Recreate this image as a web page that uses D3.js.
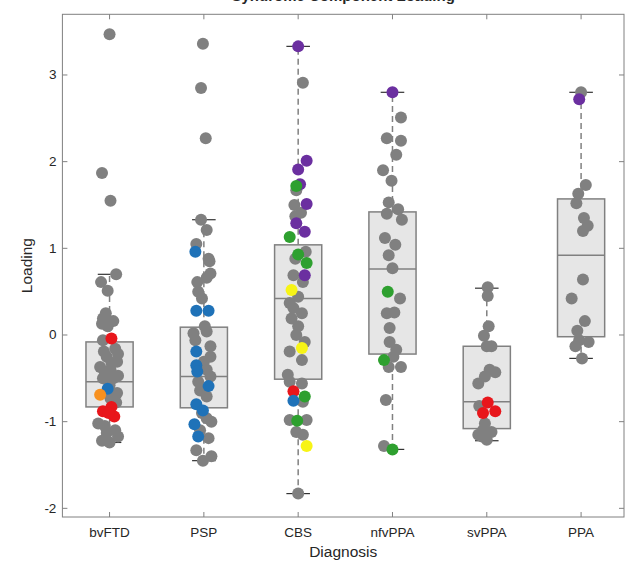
<!DOCTYPE html>
<html>
<head>
<meta charset="utf-8">
<script src="https://cdn.jsdelivr.net/npm/d3@7"></script>
<style>
  body { margin: 0; background: #fff; }
  svg { display: block; font-family: "Liberation Sans", Arial, sans-serif; }
</style>
</head>
<body>
<svg id="chart" width="626" height="564"></svg>
<script>
// groups on the x axis
const categories = ['bvFTD', 'PSP', 'CBS', 'nfvPPA', 'svPPA', 'PPA'];
const yTicks = [-2, -1, 0, 1, 2, 3];

// box statistics per group
const q1 = [-0.83, -0.84, -0.51, -0.22, -1.08, -0.02];
const medians = [-0.54, -0.48, 0.42, 0.76, -0.77, 0.92];
const q3 = [-0.08, 0.09, 1.04, 1.42, -0.13, 1.57];
const whiskerLow = [-1.24, -1.45, -1.83, -1.32, -1.22, -0.27];
const whiskerHigh = [0.70, 1.33, 3.33, 2.80, 0.54, 2.80];

// points: [loading, jitter (category units), colour key]
const bvFTDPoints = [
    [3.47, 0.00, 'g'], [1.87, -0.08, 'g'], [1.55, 0.01, 'g'], [0.70, 0.07, 'g'],
    [0.61, -0.09, 'g'], [0.51, -0.02, 'g'], [0.25, -0.04, 'g'], [0.19, -0.07, 'g'],
    [0.16, 0.04, 'g'], [0.10, -0.02, 'g'], [0.13, -0.08, 'g'], [-0.06, -0.07, 'g'],
    [-0.16, 0.06, 'g'], [-0.19, -0.06, 'g'], [-0.25, -0.03, 'g'], [-0.31, 0.08, 'g'],
    [-0.32, 0.02, 'g'], [-0.37, -0.10, 'g'], [-0.40, 0.01, 'g'], [-0.47, 0.09, 'g'],
    [-0.50, 0.04, 'g'], [-0.50, -0.07, 'g'], [-0.58, 0.00, 'g'], [-0.67, 0.08, 'g'],
    [-0.73, 0.01, 'g'], [-1.02, -0.12, 'g'], [-1.05, -0.05, 'g'], [-1.10, 0.06, 'g'],
    [-1.13, -0.03, 'g'], [-1.17, 0.09, 'g'], [-1.22, -0.08, 'g'], [-1.24, 0.00, 'g'],
    [-0.22, 0.09, 'g'], [-0.43, -0.05, 'g'], [-0.78, 0.07, 'g'],
    [-0.04, 0.02, 'r'], [-0.62, -0.02, 'b'], [-0.69, -0.10, 'o'],
    [-0.83, 0.02, 'r'], [-0.88, -0.07, 'r'], [-0.94, 0.05, 'r'], [-0.90, -0.01, 'r']
];
const pspPoints = [
    [3.36, -0.01, 'g'], [2.85, -0.03, 'g'], [2.27, 0.02, 'g'], [1.33, -0.03, 'g'],
    [1.21, 0.03, 'g'], [1.05, -0.08, 'g'], [0.88, 0.05, 'g'], [0.85, 0.06, 'g'],
    [0.71, 0.07, 'g'], [0.66, 0.03, 'g'], [0.61, -0.07, 'g'], [0.50, -0.06, 'g'],
    [0.42, -0.02, 'g'], [0.10, 0.01, 'g'], [0.04, 0.03, 'g'], [0.02, -0.11, 'g'],
    [-0.06, -0.09, 'g'], [-0.13, 0.07, 'g'], [-0.25, 0.07, 'g'], [-0.31, 0.00, 'g'],
    [-0.40, 0.03, 'g'], [-0.48, 0.07, 'g'], [-0.54, -0.06, 'g'], [-0.64, -0.04, 'g'],
    [-0.71, 0.03, 'g'], [-0.90, -0.02, 'g'], [-0.96, 0.03, 'g'], [-1.00, 0.08, 'g'],
    [-1.10, -0.04, 'g'], [-1.19, 0.05, 'g'], [-1.33, -0.08, 'g'], [-1.40, 0.08, 'g'],
    [-1.45, -0.01, 'g'],
    [0.96, -0.09, 'b'], [0.28, -0.08, 'b'], [0.28, 0.05, 'b'], [-0.19, -0.08, 'b'],
    [-0.35, -0.08, 'b'], [-0.42, -0.07, 'b'], [-0.59, 0.05, 'b'], [-0.80, -0.08, 'b'],
    [-0.87, -0.01, 'b'], [-1.03, -0.10, 'b'], [-1.17, -0.06, 'b']
];
const cbsPoints = [
    [2.91, 0.05, 'g'], [1.67, -0.02, 'g'], [1.50, -0.04, 'g'], [1.41, 0.03, 'g'],
    [1.37, -0.03, 'g'], [0.96, 0.08, 'g'], [0.88, -0.03, 'g'], [0.69, -0.05, 'g'],
    [0.61, 0.05, 'g'], [0.44, 0.00, 'g'], [0.37, -0.09, 'g'], [0.31, -0.05, 'g'],
    [0.25, 0.04, 'g'], [0.19, -0.07, 'g'], [0.10, 0.00, 'g'], [0.00, -0.02, 'g'],
    [-0.08, 0.07, 'g'], [-0.19, -0.09, 'g'], [-0.29, 0.04, 'g'], [-0.46, -0.11, 'g'],
    [-0.54, -0.09, 'g'], [-0.56, 0.04, 'g'], [-0.77, 0.05, 'g'], [-0.98, -0.09, 'g'],
    [-0.98, 0.09, 'g'], [-1.12, -0.02, 'g'], [-1.15, 0.05, 'g'], [-1.83, 0.00, 'g'],
    [3.33, 0.00, 'p'], [2.01, 0.09, 'p'], [1.91, 0.00, 'p'], [1.74, 0.02, 'p'],
    [1.51, 0.09, 'p'], [1.29, -0.02, 'p'], [1.19, 0.07, 'p'], [0.69, 0.07, 'p'],
    [1.72, -0.02, 'gr'], [1.13, -0.09, 'gr'], [0.93, 0.00, 'gr'], [0.83, 0.09, 'gr'],
    [-0.71, 0.07, 'gr'], [-0.99, -0.01, 'gr'],
    [0.52, -0.07, 'y'], [-0.15, 0.04, 'y'], [-1.28, 0.09, 'y'],
    [-0.65, -0.05, 'r'], [-0.76, -0.05, 'b']
];
const nfvPPAPoints = [
    [2.51, 0.09, 'g'], [2.27, -0.06, 'g'], [2.24, 0.09, 'g'], [2.08, 0.04, 'g'],
    [1.90, -0.10, 'g'], [1.78, -0.01, 'g'], [1.53, -0.04, 'g'], [1.45, 0.06, 'g'],
    [1.40, -0.06, 'g'], [1.33, 0.10, 'g'], [1.12, -0.08, 'g'], [1.04, 0.03, 'g'],
    [0.92, -0.04, 'g'], [0.77, 0.00, 'g'], [0.42, 0.08, 'g'], [0.25, -0.06, 'g'],
    [0.26, 0.02, 'g'], [0.08, -0.03, 'g'], [-0.08, -0.03, 'g'], [-0.17, 0.04, 'g'],
    [-0.25, 0.01, 'g'], [-0.37, -0.04, 'g'], [-0.37, 0.09, 'g'], [-0.75, -0.07, 'g'],
    [-1.28, -0.09, 'g'],
    [2.80, 0.00, 'p'], [0.50, -0.05, 'gr'], [-0.29, -0.09, 'gr'], [-1.32, 0.00, 'gr']
];
const svPPAPoints = [
    [0.55, 0.01, 'g'], [0.45, 0.01, 'g'], [0.10, 0.02, 'g'], [-0.01, -0.03, 'g'],
    [-0.13, 0.00, 'g'], [-0.13, 0.05, 'g'], [-0.40, 0.03, 'g'], [-0.43, 0.09, 'g'],
    [-0.48, -0.02, 'g'], [-0.56, -0.09, 'g'], [-0.82, -0.08, 'g'], [-1.02, -0.02, 'g'],
    [-1.10, -0.04, 'g'], [-1.12, 0.05, 'g'], [-1.15, -0.09, 'g'], [-1.17, -0.05, 'g'],
    [-1.21, 0.00, 'g'],
    [-0.78, 0.01, 'r'], [-0.90, -0.04, 'r'], [-0.88, 0.09, 'r']
];
const ppaPoints = [
    [2.80, 0.00, 'g'], [1.73, 0.05, 'g'], [1.63, -0.03, 'g'], [1.52, -0.05, 'g'],
    [1.35, 0.03, 'g'], [1.26, 0.07, 'g'], [1.20, 0.02, 'g'], [0.64, 0.02, 'g'],
    [0.42, -0.10, 'g'], [0.16, 0.04, 'g'], [0.05, -0.04, 'g'], [-0.06, -0.02, 'g'],
    [-0.08, 0.08, 'g'], [-0.13, -0.06, 'g'], [-0.27, 0.01, 'g'],
    [2.72, -0.02, 'p']
];
const pointsByGroup = [bvFTDPoints, pspPoints, cbsPoints, nfvPPAPoints, svPPAPoints, ppaPoints];

const colours = {
    g: '#808080', r: '#e8161b', b: '#1f72b8', o: '#f7901e',
    gr: '#2ea02f', p: '#6b2fa0', y: '#f7f416'
};

const margin = { left: 62.4, right: 624, top: 14.3, bottom: 517 };
const svg = d3.select('#chart');

const x = d3.scaleLinear().domain([0.5, 6.455]).range([margin.left, margin.right]);
const y = d3.scaleLinear().domain([-2.1, 3.7]).range([margin.bottom, margin.top]);

const axisColour = '#808080';
const textColour = '#262626';
const boxHalf = 0.25;
const capHalf = 0.125;

// title, mostly above the top edge of the picture
svg.append('text')
    .attr('x', (margin.left + margin.right) / 2)
    .attr('y', 0.5)
    .attr('text-anchor', 'middle')
    .style('font-size', '15px')
    .style('font-weight', 'bold')
    .style('fill', textColour)
    .text('Syndrome Component Loading');

const g = svg.append('g');

// whiskers
categories.forEach((c, i) => {
    const cx = x(i + 1);
    g.append('line')
        .attr('x1', cx).attr('x2', cx)
        .attr('y1', y(q3[i])).attr('y2', y(whiskerHigh[i]))
        .style('stroke', axisColour).style('stroke-width', 1.5)
        .style('stroke-dasharray', '6,4');
    g.append('line')
        .attr('x1', cx).attr('x2', cx)
        .attr('y1', y(q1[i])).attr('y2', y(whiskerLow[i]))
        .style('stroke', axisColour).style('stroke-width', 1.5)
        .style('stroke-dasharray', '6,4');
    [whiskerHigh[i], whiskerLow[i]].forEach((v) => {
        g.append('line')
            .attr('x1', x(i + 1 - capHalf)).attr('x2', x(i + 1 + capHalf))
            .attr('y1', y(v)).attr('y2', y(v))
            .style('stroke', '#333').style('stroke-width', 1.2);
    });
});

// boxes
g.selectAll('.box')
    .data(categories)
    .enter()
    .append('rect')
    .attr('class', 'box')
    .attr('x', (d, i) => x(i + 1 - boxHalf))
    .attr('width', (d, i) => x(i + 1 + boxHalf) - x(i + 1 - boxHalf))
    .attr('y', (d, i) => y(q3[i]))
    .attr('height', (d, i) => y(q1[i]) - y(q3[i]))
    .style('fill', '#e6e6e6')
    .style('stroke', axisColour)
    .style('stroke-width', 1.5);

g.selectAll('.median')
    .data(medians)
    .enter()
    .append('line')
    .attr('x1', (d, i) => x(i + 1 - boxHalf))
    .attr('x2', (d, i) => x(i + 1 + boxHalf))
    .attr('y1', (d) => y(d))
    .attr('y2', (d) => y(d))
    .style('stroke', axisColour)
    .style('stroke-width', 1.5);

// points: grey first, coloured on top
const allPoints = [];
pointsByGroup.forEach((pts, i) => {
    pts.forEach((p) => allPoints.push({ group: i + 1, value: p[0], jitter: p[1], key: p[2] }));
});
allPoints.sort((a, b) => (a.key === 'g' ? 0 : 1) - (b.key === 'g' ? 0 : 1));

g.selectAll('.pt')
    .data(allPoints)
    .enter()
    .append('circle')
    .attr('class', 'pt')
    .attr('cx', (d) => x(d.group + d.jitter))
    .attr('cy', (d) => y(d.value))
    .attr('r', 6)
    .style('fill', (d) => colours[d.key]);

// frame and ticks
const frame = svg.append('g');
frame.append('rect')
    .attr('x', margin.left).attr('y', margin.top)
    .attr('width', margin.right - margin.left)
    .attr('height', margin.bottom - margin.top)
    .style('fill', 'none').style('stroke', axisColour).style('stroke-width', 1);

const tickLen = 5;
categories.forEach((c, i) => {
    const cx = x(i + 1);
    frame.append('line').attr('x1', cx).attr('x2', cx)
        .attr('y1', margin.bottom).attr('y2', margin.bottom - tickLen)
        .style('stroke', axisColour);
    frame.append('line').attr('x1', cx).attr('x2', cx)
        .attr('y1', margin.top).attr('y2', margin.top + tickLen)
        .style('stroke', axisColour);
    frame.append('text')
        .attr('x', cx).attr('y', margin.bottom + 20)
        .attr('text-anchor', 'middle')
        .style('font-size', '13.5px').style('fill', textColour)
        .text(c);
});

yTicks.forEach((t) => {
    const ty = y(t);
    frame.append('line').attr('x1', margin.left).attr('x2', margin.left + tickLen)
        .attr('y1', ty).attr('y2', ty).style('stroke', axisColour);
    frame.append('line').attr('x1', margin.right).attr('x2', margin.right - tickLen)
        .attr('y1', ty).attr('y2', ty).style('stroke', axisColour);
    frame.append('text')
        .attr('x', margin.left - 6).attr('y', ty + 4.5)
        .attr('text-anchor', 'end')
        .style('font-size', '13.5px').style('fill', textColour)
        .text(t);
});

// axis titles
svg.append('text')
    .attr('x', (margin.left + margin.right) / 2)
    .attr('y', 557)
    .attr('text-anchor', 'middle')
    .style('font-size', '15.5px').style('fill', textColour)
    .text('Diagnosis');

svg.append('text')
    .attr('transform', 'translate(32,' + ((margin.top + margin.bottom) / 2) + ') rotate(-90)')
    .attr('text-anchor', 'middle')
    .style('font-size', '15.5px').style('fill', textColour)
    .text('Loading');
</script>
</body>
</html>
